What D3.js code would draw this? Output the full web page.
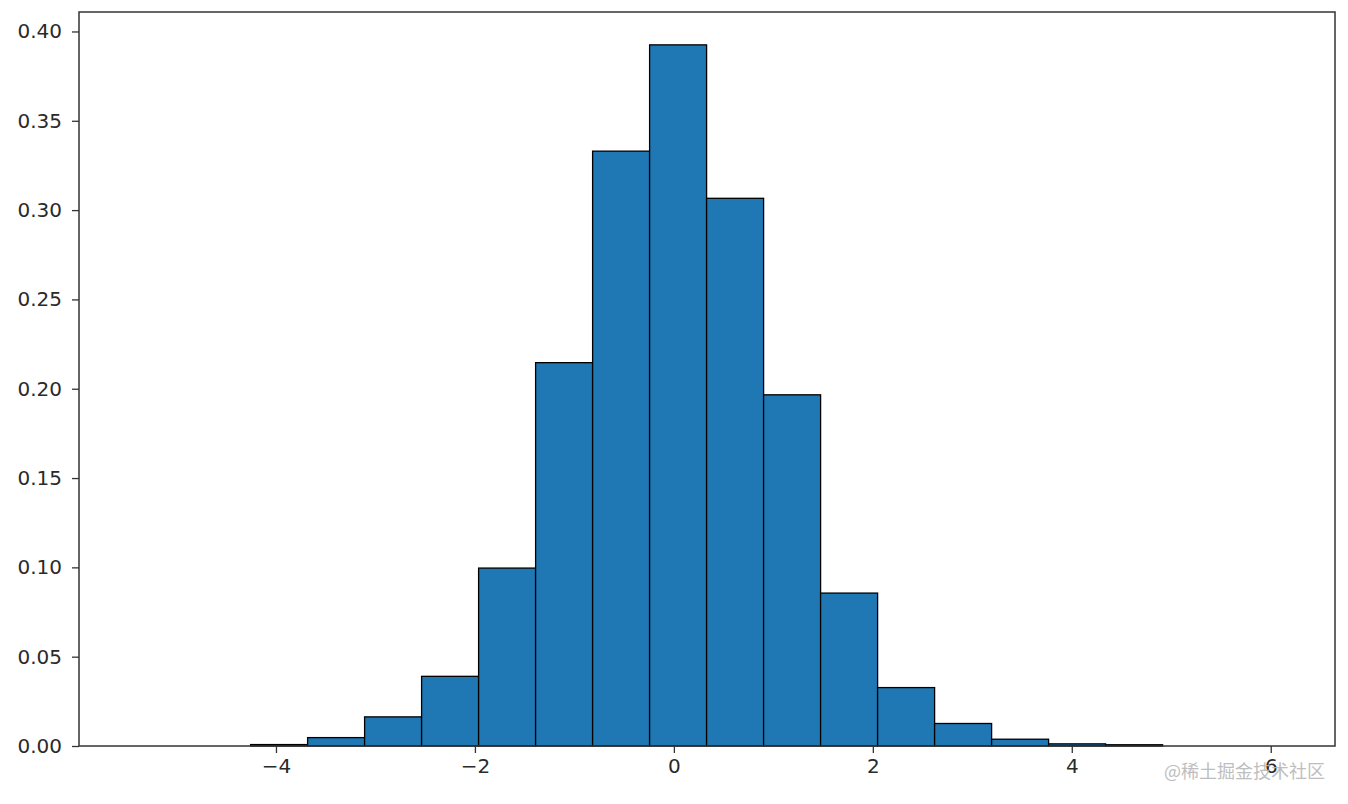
<!DOCTYPE html>
<html>
<head>
<meta charset="utf-8">
<script src="https://cdn.jsdelivr.net/npm/d3@7"></script>
<style>
  html, body { margin: 0; padding: 0; background: #fff; }
  svg { display: block; }
  .tick text { font-family: "DejaVu Sans", sans-serif; }
</style>
</head>
<body>
<div id="chart"></div>
<script>
// ---- data ----
const binStart = -4.255;
const binWidth = 0.573;
const densities = [0.0008, 0.0047, 0.0163, 0.039, 0.0996, 0.2146, 0.333, 0.3925,
                   0.3066, 0.1966, 0.0856, 0.0327, 0.0126, 0.0038, 0.0012, 0.0007];
const xTicks = [-4, -2, 0, 2, 4, 6];
const yTicks = [0.00, 0.05, 0.10, 0.15, 0.20, 0.25, 0.30, 0.35, 0.40];
const xDomain = [-5.98, 6.646];
const yDomain = [0, 0.4109];
const watermark = "@稀土掘金技术社区";

const bins = densities.map((d, i) => ({
  x0: binStart + i * binWidth,
  x1: binStart + (i + 1) * binWidth,
  v: d
}));

// ---- layout ----
const W = 1348, H = 804;
const margin = { left: 79, right: 13, top: 12, bottom: 58 };
const iw = W - margin.left - margin.right;
const ih = H - margin.top - margin.bottom;

const svg = d3.select("#chart").append("svg")
  .attr("width", W).attr("height", H);

const g = svg.append("g").attr("transform", `translate(${margin.left},${margin.top})`);

const x = d3.scaleLinear().domain(xDomain).range([0, iw]);
const y = d3.scaleLinear().domain(yDomain).range([ih, 0]);

// bars
g.selectAll("rect.bar").data(bins).join("rect")
  .attr("class", "bar")
  .attr("x", d => x(d.x0))
  .attr("width", d => x(d.x1) - x(d.x0))
  .attr("y", d => y(d.v))
  .attr("height", d => y(0) - y(d.v))
  .attr("fill", "#1f77b4")
  .attr("stroke", "#000")
  .attr("stroke-width", 1.3);

// axes
const fmtX = v => (v < 0 ? "\u2212" + Math.abs(v) : String(v));
const xAxis = d3.axisBottom(x).tickValues(xTicks).tickFormat(fmtX)
  .tickSize(7).tickPadding(6);
const yAxis = d3.axisLeft(y).tickValues(yTicks).tickFormat(d3.format(".2f"))
  .tickSize(7).tickPadding(10);

const gx = g.append("g").attr("transform", `translate(0,${ih})`).call(xAxis);
const gy = g.append("g").call(yAxis);

[gx, gy].forEach(a => {
  a.select(".domain").remove();
  a.selectAll(".tick line").attr("stroke", "#333").attr("stroke-width", 1.3);
  a.selectAll(".tick text").attr("fill", "#2a2a2a").style("font-size", "20px");
});

// frame (spines)
g.append("rect")
  .attr("x", 0).attr("y", 0).attr("width", iw).attr("height", ih)
  .attr("fill", "none").attr("stroke", "#333").attr("stroke-width", 1.5);

// watermark
svg.append("text")
  .attr("x", 1325).attr("y", 778)
  .attr("text-anchor", "end")
  .attr("fill", "#b8b8b8")
  .attr("opacity", 0.9)
  .style("font-family", "'Noto Sans CJK SC', sans-serif")
  .style("font-size", "18px")
  .text(watermark);
</script>
</body>
</html>
